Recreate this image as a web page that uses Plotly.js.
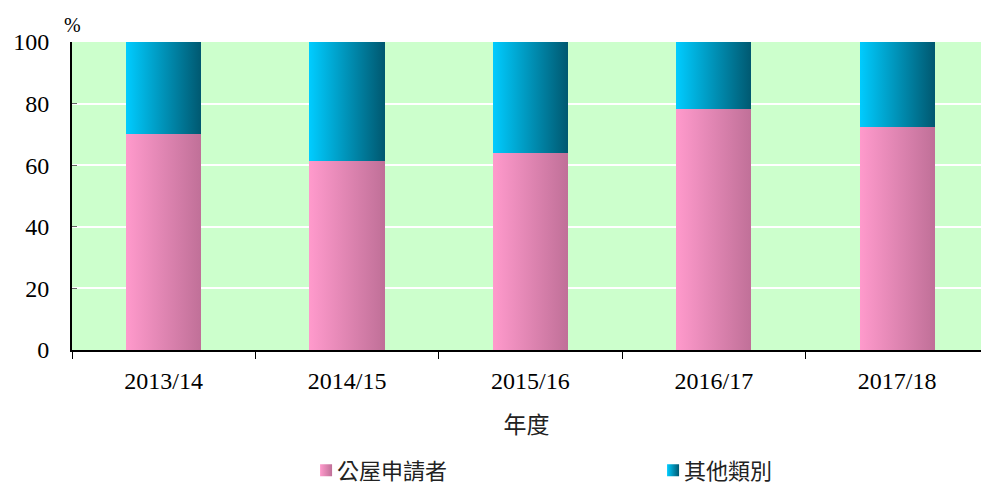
<!DOCTYPE html>
<html>
<head>
<meta charset="utf-8">
<script src="https://cdn.plot.ly/plotly-3.0.1.min.js"></script>
<style>html,body{margin:0;padding:0;background:#fff;}</style>
</head>
<body>
<div id="chart" style="width:981px;height:486px;"></div>
<script>
const years = ["2013/14", "2014/15", "2015/16", "2016/17", "2017/18"];
const publicHousing = [70, 61.5, 64, 78.3, 72.5];
const others = [30, 38.5, 36, 21.7, 27.5];
const seriesNames = ["公屋申請者", "其他類別"];
const yTicks = [0, 20, 40, 60, 80, 100];

const serif = "Liberation Serif";
const cjk = "Noto Sans CJK TC";

const traces = [
  {type: "bar", name: seriesNames[0], x: years, y: publicHousing,
   marker: {color: "#e08ab4", line: {width: 0}}, width: 0.41},
  {type: "bar", name: seriesNames[1], x: years, y: others,
   marker: {color: "#0099bb", line: {width: 0}}, width: 0.41}
];

const layout = {
  width: 981, height: 486,
  margin: {l: 72, r: 0, t: 42, b: 136, autoexpand: false},
  barmode: "stack",
  paper_bgcolor: "#ffffff",
  plot_bgcolor: "#ccffcc",
  showlegend: true,
  legend: {orientation: "h", xref: "container", yref: "container",
           x: 0.312, xanchor: "left", y: 0.032, yanchor: "middle",
           entrywidth: 302, entrywidthmode: "pixels",
           font: {family: cjk, size: 22, color: "#222"},
           itemwidth: 30, traceorder: "normal"},
  xaxis: {type: "category", range: [-0.5, 4.457],
          showline: true, linecolor: "#000", linewidth: 2,
          ticks: "outside", tickson: "boundaries", ticklen: 7, tickcolor: "#000", tickwidth: 1,
          tickfont: {family: serif, size: 24, color: "#000"}, tickangle: 0,
          ticklabelstandoff: 8,
          showgrid: false, zeroline: false,
          title: {text: "年度", font: {family: cjk, size: 23, color: "#222"}, standoff: 24}},
  yaxis: {range: [0, 100], tickvals: yTicks, ticktext: yTicks.map(String),
          showline: true, linecolor: "#000", linewidth: 2,
          ticks: "inside", ticklen: 5, tickcolor: "#666", tickwidth: 1,
          ticklabelstandoff: 16,
          tickfont: {family: serif, size: 24, color: "#000"},
          showgrid: true, gridcolor: "#ffffff", gridwidth: 2, zeroline: false},
  annotations: [{text: "%", xref: "paper", yref: "paper", x: 0, y: 1, xanchor: "center",
                 yanchor: "bottom", yshift: 4, showarrow: false,
                 font: {family: serif, size: 20, color: "#000"}}]
};

Plotly.newPlot("chart", traces, layout, {displayModeBar: false, staticPlot: true}).then(function (gd) {
  const svg = gd.querySelector("svg.main-svg");
  const ns = "http://www.w3.org/2000/svg";
  let defs = svg.querySelector("defs");
  if (!defs) { defs = document.createElementNS(ns, "defs"); svg.insertBefore(defs, svg.firstChild); }
  function addGrad(id, c1, c2) {
    const g = document.createElementNS(ns, "linearGradient");
    g.setAttribute("id", id);
    g.setAttribute("x1", "0"); g.setAttribute("y1", "0");
    g.setAttribute("x2", "1"); g.setAttribute("y2", "0");
    const s1 = document.createElementNS(ns, "stop");
    s1.setAttribute("offset", "0"); s1.setAttribute("stop-color", c1);
    const s2 = document.createElementNS(ns, "stop");
    s2.setAttribute("offset", "1"); s2.setAttribute("stop-color", c2);
    g.appendChild(s1); g.appendChild(s2); defs.appendChild(g);
  }
  addGrad("gradPink", "#ff9acc", "#c07098");
  addGrad("gradCyan", "#00ccff", "#005870");
  const grads = ["url(#gradPink)", "url(#gradCyan)"];
  gd.querySelectorAll(".barlayer .trace.bars").forEach(function (t, i) {
    t.querySelectorAll("path").forEach(function (p) { p.style.fill = grads[i]; });
  });
  gd.querySelectorAll(".legend .traces").forEach(function (t, i) {
    t.querySelectorAll(".legendpoints path").forEach(function (p) { p.style.fill = grads[i]; p.style.stroke = "none"; });
    t.querySelectorAll(".legendtext").forEach(function (tx) { tx.setAttribute("x", "31"); });
  });
});
</script>
</body>
</html>
